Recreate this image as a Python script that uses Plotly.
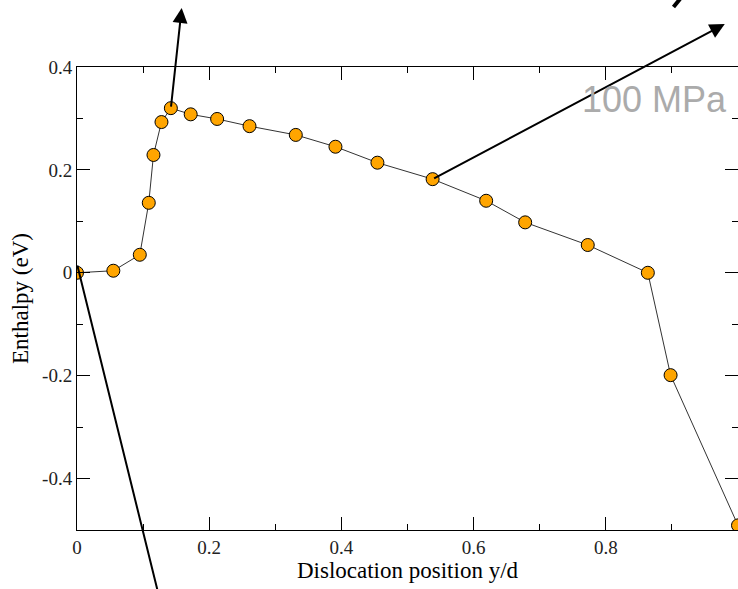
import plotly.graph_objects as go

# Data
position = [0.0, 0.055, 0.095, 0.1086, 0.1157, 0.1278, 0.142, 0.172, 0.212, 0.261,
            0.331, 0.391, 0.4545, 0.538, 0.619, 0.678, 0.7727, 0.8636, 0.898, 1.0]
enthalpy = [0.0, 0.004, 0.035, 0.136, 0.229, 0.293, 0.320, 0.308, 0.299, 0.285,
            0.268, 0.245, 0.214, 0.182, 0.140, 0.098, 0.054, 0.0, -0.199, -0.491]

x_tickvals = [0, 0.2, 0.4, 0.6, 0.8]
x_ticktext = ["0", "0.2", "0.4", "0.6", "0.8"]
y_tickvals = [-0.4, -0.2, 0, 0.2, 0.4]
y_ticktext = ["-0.4", "-0.2", "0", "0.2", "0.4"]

# Arrows: (tail x, tail y, head x, head y) in data units
arrow_tails = [(position[6], enthalpy[6]), (position[13], enthalpy[13]), (0.0, 0.017)]
arrow_heads = [(0.1584, 0.5147), (0.980, 0.4836), (0.130, -0.66)]

serif = "Liberation Serif, Times New Roman, serif"

fig = go.Figure()
fig.add_trace(go.Scatter(
    x=position, y=enthalpy, mode="lines+markers",
    line=dict(color="#333333", width=1),
    marker=dict(size=13, color="#FFA500", line=dict(color="black", width=1)),
    showlegend=False,
))

for (tx, ty), (hx, hy) in zip(arrow_tails, arrow_heads):
    fig.add_annotation(
        x=hx, y=hy, ax=tx, ay=ty, xref="x", yref="y", axref="x", ayref="y",
        text="", showarrow=True, arrowhead=2, arrowsize=1.5,
        arrowwidth=2, arrowcolor="black", standoff=0, startstandoff=0,
    )

fig.add_annotation(
    x=0.986, y=0.930, xref="paper", yref="paper", xanchor="right", yanchor="middle",
    text="100 MPa", showarrow=False,
    font=dict(family="Liberation Sans, Arial, sans-serif", size=36, color="#ABABAB"),
)

# fragment of a cut-off glyph at the top edge
fig.add_shape(type="line", xref="paper", yref="paper",
              x0=(673.5 - 77) / 661, y0=(530 - 7) / 463,
              x1=(680 - 77) / 661, y1=(530 + 1) / 463,
              line=dict(color="black", width=4))

axis_common = dict(
    showgrid=False, zeroline=False, showline=True, linecolor="black", linewidth=1,
    mirror="ticks", ticks="inside", ticklen=13, tickwidth=1, tickcolor="black",
    tickfont=dict(family=serif, size=19, color="#222222"),
)

fig.update_xaxes(
    range=[0, 1], tickmode="array", tickvals=x_tickvals, ticktext=x_ticktext,
    minor=dict(ticks="inside", ticklen=6, tickwidth=1, tickcolor="black", tick0=0, dtick=0.1),
    title=dict(text="Dislocation position y/d", font=dict(family=serif, size=23, color="black"), standoff=3),
    **axis_common,
)
fig.update_yaxes(
    range=[-0.5, 0.4], tickmode="array", tickvals=y_tickvals, ticktext=y_ticktext,
    minor=dict(ticks="inside", ticklen=6, tickwidth=1, tickcolor="black", tick0=0, dtick=0.1),
    title=dict(text="Enthalpy (eV)", font=dict(family=serif, size=23, color="black"), standoff=7),
    **axis_common,
)

fig.update_layout(
    width=738, height=589,
    margin=dict(l=77, r=0, t=67, b=59),
    plot_bgcolor="white", paper_bgcolor="white",
)

fig.write_html("out.html")
